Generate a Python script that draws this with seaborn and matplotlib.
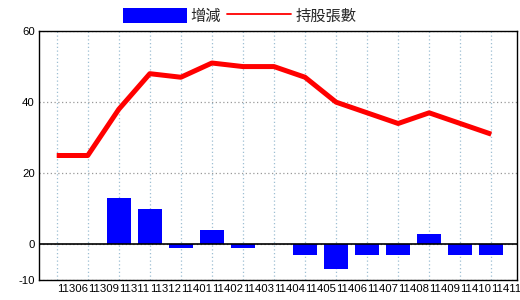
import numpy as np
import pandas as pd
import matplotlib
matplotlib.use("Agg")
import matplotlib.pyplot as plt
from matplotlib.patches import Patch
from matplotlib.lines import Line2D
import seaborn as sns

periods = ["11306", "11309", "11311", "11312", "11401", "11402", "11403", "11404",
           "11405", "11406", "11407", "11408", "11409", "11410", "11411"]
change = [0, 0, 13, 10, -1, 4, -1, 0, -3, -7, -3, -3, 3, -3, -3]
holders = [25, 25, 38, 48, 47, 51, 50, 50, 47, 40, 37, 34, 37, 34, 31]
yticks = [-10, 0, 20, 40, 60]
legend_labels = ["增減", "持股張數"]

sns.set_theme(style="white")
plt.rcParams["font.family"] = ["Liberation Sans", "Noto Sans CJK TC", "DejaVu Sans"]

df = pd.DataFrame({"period": periods, "change": change, "holders": holders})

fig = plt.figure(figsize=(5.2, 3.0), dpi=100)
ax = fig.add_axes([39 / 520, 20 / 300, 478 / 520, 249 / 300])

sns.barplot(data=df, x="period", y="change", color="#0000FF", saturation=1,
            width=0.77, ax=ax, zorder=3, linewidth=0)
sns.lineplot(x=np.arange(len(df)), y=df["holders"], color="#FF0000",
             linewidth=3.6, ax=ax, zorder=5, solid_capstyle="butt")

ax.axhline(0, color="black", linewidth=1.2, zorder=4)

ax.set_ylim(-10, 60)
ax.set_xlim(-0.571, 14.83)
ax.set_yticks(yticks)
ax.set_yticklabels([str(v) for v in yticks])
ax.set_xticks(np.arange(len(periods)))
ax.set_xticklabels(periods, ha="left")
ax.set_xlabel("")
ax.set_ylabel("")

ax.tick_params(axis="both", length=0, labelsize=8.2, colors="black")
ax.tick_params(axis="y", pad=3)
ax.tick_params(axis="x", pad=3)
for lab in ax.get_xticklabels():
    lab.set_x(lab.get_position()[0])

ax.xaxis.grid(True, color="#9DBFD3", linestyle=(0, (1, 2)), linewidth=0.9, zorder=0)
ax.yaxis.grid(True, color="#999999", linestyle=(0, (1, 2)), linewidth=0.9, zorder=0)
ax.set_axisbelow(True)

for s in ax.spines.values():
    s.set_visible(True)
    s.set_color("black")
    s.set_linewidth(1.0)

handles = [Patch(facecolor="#0000FF", edgecolor="none"),
           Line2D([0], [0], color="#FF0000", linewidth=1.3)]
fig.legend(handles, legend_labels, loc="center", bbox_to_anchor=(239.5 / 520, 1 - 16 / 300),
           ncol=2, frameon=False, fontsize=11, handlelength=4.2, handleheight=1.05,
           handletextpad=0.25, columnspacing=0.4, borderpad=0, borderaxespad=0)

fig.savefig("out.png", dpi=100)
